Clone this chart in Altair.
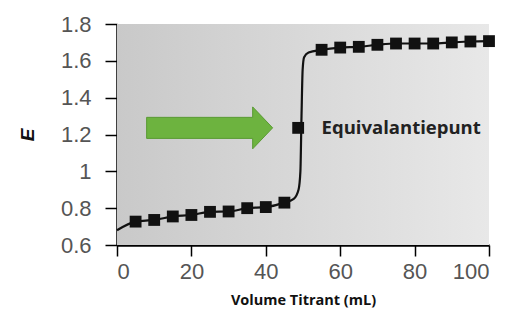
import altair as alt
import pandas as pd

# measured points (squares)
pt_x = [5, 10, 15, 20, 25, 30, 35, 40, 45, 48.7, 55, 60, 65, 70, 75, 80, 85, 90, 95, 100]
pt_e = [0.727, 0.736, 0.755, 0.763, 0.78, 0.782, 0.80, 0.806, 0.83, 1.236,
        1.66, 1.672, 1.676, 1.687, 1.694, 1.694, 1.694, 1.70, 1.705, 1.707]

# titration curve
cv_x = [0, 5, 10, 15, 20, 25, 30, 35, 40, 45, 47.5, 48.8, 49.3, 49.6, 49.9, 50.3, 51.5, 55,
        60, 65, 70, 75, 80, 85, 90, 95, 100]
cv_e = [0.68, 0.727, 0.736, 0.755, 0.763, 0.78, 0.782, 0.80, 0.806, 0.83, 0.85, 0.9, 1.0, 1.3,
        1.55, 1.62, 1.645, 1.66, 1.672, 1.676, 1.687, 1.694, 1.694, 1.694, 1.70, 1.705, 1.707]

x_ticks = [0, 20, 40, 60, 80, 100]
y_ticks = [0.6, 0.8, 1.0, 1.2, 1.4, 1.6, 1.8]

label_text = "Equivalantiepunt"
label_x, label_e = 55, 1.236
arrow_x, arrow_e = 24.9, 1.236

pts = pd.DataFrame({"x": pt_x, "E": pt_e})
curve = pd.DataFrame({"x": cv_x, "E": cv_e})

xs = alt.Scale(domain=[0, 100], nice=False, zero=False)
ys = alt.Scale(domain=[0.6, 1.8], nice=False, zero=False)

xaxis = alt.Axis(values=x_ticks, title="Volume Titrant (mL)", grid=False, labelOverlap=False,
                 domainColor="black", domainWidth=2.5, tickColor="black", tickWidth=1.5,
                 tickSize=11, labelFontSize=22, labelColor="#555555", labelFont="Liberation Sans",
                 labelPadding=5, titleFont="Open Sans", titleFontSize=14.5, titleFontWeight="bold",
                 titleColor="#111111", titlePadding=11)
yaxis = alt.Axis(values=y_ticks, title="E", grid=False, labelOverlap=False, tickCount=7,
                 labelExpr="datum.value == 1 ? '1' : format(datum.value, '.1f')",
                 domainColor="black", domainWidth=2.5, tickColor="black", tickWidth=1.5,
                 tickSize=12, labelFontSize=22, labelColor="#555555", labelFont="Liberation Sans",
                 labelPadding=14, titleFont="Liberation Sans", titleFontSize=19,
                 titleFontWeight="bold", titleFontStyle="italic", titleColor="#111111",
                 titlePadding=23)


def X(f):
    return alt.X(f, scale=xs, axis=xaxis)


def Y(f):
    return alt.Y(f, scale=ys, axis=yaxis)


bg_df = pd.DataFrame({"x": [0], "x2": [100], "y": [0.6], "y2": [1.8]})
bg = alt.Chart(bg_df).mark_rect(
    color=alt.LinearGradient(gradient="linear", x1=0, x2=1, y1=0, y2=0,
                             stops=[alt.GradientStop(color="#c9c9c9", offset=0),
                                    alt.GradientStop(color="#e8e8e8", offset=1)])
).encode(x=X("x:Q"), x2="x2", y=Y("y:Q"), y2="y2")

line = alt.Chart(curve).mark_line(color="#111111", strokeWidth=2.2, interpolate="monotone").encode(
    x=X("x:Q"), y=Y("E:Q"))

squares = alt.Chart(pts).mark_point(shape="square", filled=True, opacity=1, size=140,
                                    color="#111111").encode(x=X("x:Q"), y=Y("E:Q"))

arrow_path = ("M -1 -0.167 L 0.683 -0.167 L 0.683 -0.333 L 1 0 L 0.683 0.333 "
              "L 0.683 0.167 L -1 0.167 Z")
arrow = alt.Chart(pd.DataFrame({"x": [arrow_x], "E": [arrow_e]})).mark_point(
    shape=arrow_path, filled=True, opacity=1, size=126 * 126, color="#6db33f",
    stroke="#5a9a34", strokeWidth=1).encode(x=X("x:Q"), y=Y("E:Q"))

label = alt.Chart(pd.DataFrame({"x": [label_x], "E": [label_e], "t": [label_text]})).mark_text(
    align="left", baseline="middle", font="Open Sans", fontSize=18.5, fontWeight="bold",
    color="#222222").encode(x=X("x:Q"), y=Y("E:Q"), text="t:N")

chart = alt.layer(bg, line, squares, arrow, label).properties(
    width=372, height=221,
    autosize=alt.AutoSizeParams(type="none"),
    padding={"left": 109, "top": 16, "right": 17, "bottom": 70},
    background="white",
).configure_view(stroke=None)

chart.save("out.html", embed_options={"renderer": "svg", "actions": False})
